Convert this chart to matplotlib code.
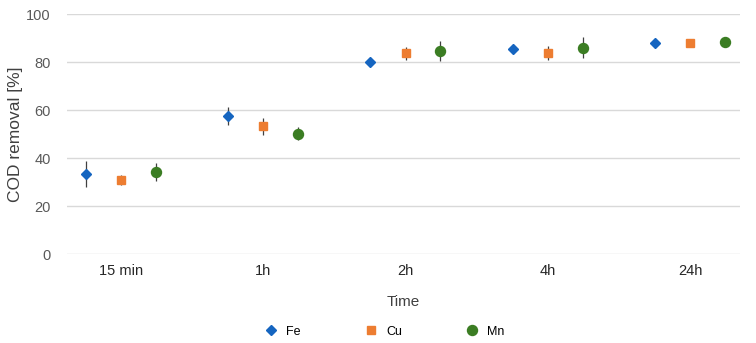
import matplotlib
matplotlib.use("Agg")
import matplotlib.pyplot as plt
import numpy as np

plt.rcParams['font.family'] = ['Liberation Sans', 'DejaVu Sans']

categories = ["15 min", "1h", "2h", "4h", "24h"]
series = ["Fe", "Cu", "Mn"]
fe_vals = [33.5, 57.6, 80.1, 85.5, 87.9]
fe_err = [5.4, 3.6, 0.8, 0.8, 0.5]
cu_vals = [31.0, 53.3, 83.7, 83.8, 88.0]
cu_err = [2.2, 3.5, 2.6, 3.0, 0.8]
mn_vals = [34.3, 50.3, 84.7, 86.1, 88.5]
mn_err = [3.7, 2.8, 4.0, 4.3, 0.8]
y_ticks = [0, 20, 40, 60, 80, 100]

fig = plt.figure(figsize=(7.56, 3.43), dpi=100)
ax = fig.add_axes([0.089, 0.2586, 0.89, 0.70])

x = np.arange(len(categories))
styles = [
    (fe_vals, fe_err, -0.248, 'D', 5.6, '#1565C0', "Fe"),
    (cu_vals, cu_err, 0.0, 's', 5.6, '#ED7D31', "Cu"),
    (mn_vals, mn_err, 0.245, 'o', 7.2, '#3B7D23', "Mn"),
]
handles = []
for vals, err, off, mk, ms, col, lab in styles:
    ax.errorbar(x + off, vals, yerr=err, fmt='none', ecolor='#404040',
                elinewidth=0.9, capsize=0, zorder=2)
    h, = ax.plot(x + off, vals, linestyle='none', marker=mk, markersize=ms,
                 color=col, markeredgecolor=col, label=lab, zorder=3)
    handles.append(h)

ax.set_xlim(-0.377, 4.35)
ax.set_ylim(0, 100)
ax.set_yticks(y_ticks)
ax.set_xticks(x)
ax.set_xticklabels(categories, fontsize=10.5, color='#262626')
ax.tick_params(axis='y', labelsize=10.5, labelcolor='#595959', length=0, pad=12)
ax.tick_params(axis='x', length=0, pad=7)
ax.grid(axis='y', color='#d9d9d9', linewidth=1.0)
ax.set_axisbelow(True)
for s in ax.spines.values():
    s.set_visible(False)

ax.set_ylabel("COD removal [%]", fontsize=12.5, color='#404040')
ax.yaxis.set_label_coords(-0.066, 0.5)
ax.set_xlabel("Time", fontsize=11, color='#404040', labelpad=12)

fig.legend(handles=handles, labels=series, loc='center', ncol=3,
           bbox_to_anchor=(0.508, 0.033), frameon=False, fontsize=9,
           columnspacing=5.0, handletextpad=0.6, handlelength=1.2)

fig.savefig("out.png", dpi=100)
